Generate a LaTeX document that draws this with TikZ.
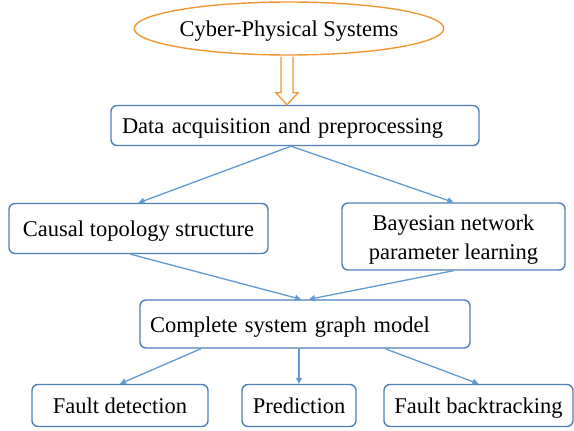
\documentclass[tikz,border=0pt]{standalone}
\usepackage{fontspec}
\setmainfont{Liberation Serif}
\usetikzlibrary{arrows.meta,calc,shapes.geometric}
\definecolor{OrangeClr}{RGB}{240,150,50}
\definecolor{BoxClr}{RGB}{80,128,186}
\definecolor{LineClr}{RGB}{96,154,212}
\newcommand\boxfont{\fontsize{22.5}{29}\selectfont}

\tikzset{
  boxnode/.style={draw=BoxClr,line width=1.4pt,rounded corners=6pt,fill=white,
    font=\boxfont,inner sep=0pt,align=center},
  onerow/.style={text height=16.5pt,text depth=0pt},
  leftbox/.style={boxnode,onerow,align=left,inner xsep=11pt,inner ysep=0pt},
  link/.style={draw=LineClr,line width=1.3pt,-{Triangle[length=6pt,width=6pt]}},
  bigarrow/.style={draw=OrangeClr,line width=1.3pt,fill=white,line join=miter}
}

\begin{document}
\begin{tikzpicture}[x=1pt,y=-1pt]
\useasboundingbox (0,0) rectangle (574,431);

\node[ellipse,draw=OrangeClr,line width=1.4pt,minimum width=256,minimum height=53,
  inner sep=0pt,font=\boxfont,onerow] (cps) at (289,28.5) {Cyber-Physical Systems};

\node[leftbox,text width=346,minimum height=40] (data) at (295,125.5)
  {Data acquisition and preprocessing};

\node[boxnode,onerow,minimum width=259,minimum height=50] (causal) at (138.5,228.5)
  {Causal topology structure};
\node[boxnode,minimum width=223,minimum height=67,inner ysep=0pt] (bayes) at (453.5,236.5)
  {\rule{0pt}{1em}Bayesian network\\parameter learning};

\node[leftbox,inner xsep=10pt,text width=310,minimum height=48] (complete) at (305,324)
  {Complete system graph model};

\node[boxnode,onerow,minimum width=176,minimum height=42] (fd) at (120,405.5) {Fault detection};
\node[boxnode,onerow,minimum width=114,minimum height=42] (pred) at (299,405.5) {Prediction};
\node[boxnode,onerow,minimum width=189,minimum height=42] (fbt) at (478.5,405.5) {Fault backtracking};

\coordinate (tip) at (cps.south -| 287,0);
\coordinate (tip) at (tip |- data.north);
\draw[bigarrow] ($(cps.south)+(-8,1)$) -- ($(tip)+(-6,-12)$) -- ($(tip)+(-11,-12)$)
  -- (tip) -- ($(tip)+(11,-12)$) -- ($(tip)+(6,-12)$) -- ($(cps.south)+(4,1)$);

\draw[link] ($(data.south)+(-4,0)$) -- (causal.north);
\draw[link] ($(data.south)+(-4,0)$) -- (bayes.north);

\draw[link] ($(causal.south)+(-8,0)$) -- ($(complete.north)+(-4,0)$);
\draw[link] (bayes.south) -- ($(complete.north)+(4,0)$);

\draw[link] ($(complete.south)+(-104,0)$) -- (fd.north);
\draw[link] (pred.north |- complete.south) -- (pred.north);
\draw[link] ($(complete.south)+(80,0)$) -- (fbt.north);

\end{tikzpicture}
\end{document}
